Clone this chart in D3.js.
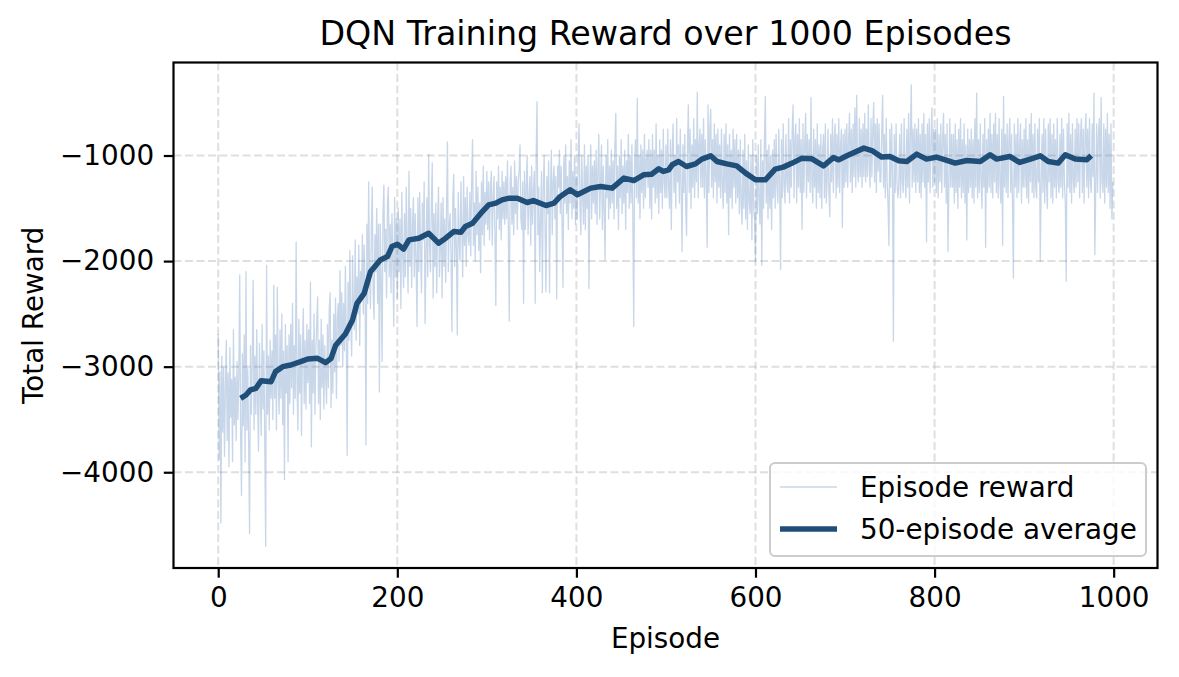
<!DOCTYPE html>
<html>
<head>
<meta charset="utf-8">
<script src="https://cdn.jsdelivr.net/npm/d3@7"></script>
<style>
  html, body { margin: 0; padding: 0; background: #fff; }
  svg { display: block; font-family: "DejaVu Sans", sans-serif; }
</style>
</head>
<body>
<svg id="chart" width="1179" height="677"></svg>
<script>
// total reward per episode (20 episodes per row)
const episodeRewards = [
  -2690, -3880, -3050, -4480, -2900, -3620, -3010, -3850, -3200, -2750, -3700, -3060, -3950, -2820, -3480, -3120, -3900, -2650, -3550, -3100,
  -3700, -2950, -3500, -3080, -2130, -3650, -4220, -2880, -3560, -2700, -3900, -2100, -3600, -3020, -3750, -4580, -2800, -3450, -2950, -2180,
  -3600, -2900, -3450, -2650, -3350, -3800, -2780, -3250, -3650, -2600, -3400, -2850, -3750, -4700, -2040, -3450, -2900, -3600, -2750, -3300,
  -2850, -3500, -2230, -3300, -2700, -3600, -2250, -3150, -3450, -2650, -3300, -2500, -3550, -2850, -4070, -2600, -3250, -2800, -3900, -2700,
  -3350, -2600, -3200, -2400, -3450, -2800, -3300, -1820, -3150, -3600, -2550, -3250, -2700, -3650, -2850, -2450, -3350, -2750, -3400, -2600,
  -3150, -2650, -3350, -2200, -3760, -2750, -3250, -2500, -3450, -2850, -2600, -2340, -3350, -2750, -3500, -2550, -3200, -2700, -3400, -2800,
  -3100, -3350, -2600, -3200, -2450, -2300, -3390, -2750, -3250, -2500, -3050, -2350, -3300, -2550, -2400, -2950, -2090, -2800, -2300, -3000,
  -2400, -2850, -2050, -2700, -3840, -2200, -2750, -1900, -2550, -2900, -1950, -2450, -2650, -1800, -2750, -2150, -2500, -1850, -2800, -2100,
  -2350, -1750, -2500, -1850, -2250, -3740, -1650, -2400, -1250, -2150, -2450, -1700, -1300, -2300, -2550, -1750, -2100, -1500, -2400, -1650,
  -3240, -1650, -2200, -2950, -1550, -1280, -2100, -1700, -2350, -1450, -1300, -2150, -1650, -2300, -1550, -2000, -2620, -1400, -2150, -1600,
  -2350, -1500, -2100, -1600, -2450, -1350, -1950, -2250, -1550, -2150, -1300, -1850, -2300, -1150, -2050, -1500, -2250, -1650, -1400, -2150,
  -1550, -2000, -2620, -1400, -2100, -1350, -1900, -2300, -1450, -1800, -1250, -2590, -1950, -1400, -2150, -990, -1850, -2100, -1500, -1070,
  -2350, -1550, -2050, -1450, -2300, -1650, -1300, -2150, -1900, -1450, -2350, -1400, -2050, -1600, -2200, -1500, -870, -2100, -1650, -1550,
  -1950, -2670, -1400, -1180, -2050, -1500, -1900, -2700, -1350, -1800, -2000, -1250, -1700, -2150, -1200, -1850, -1400, -2050, -1300, -1750,
  -1850, -1350, -1950, -1250, -850, -1850, -1450, -2000, -1150, -1750, -1300, -1900, -1450, -2110, -1250, -1750, -1100, -1850, -1350, -1650,
  -1150, -1700, -1250, -1800, -1300, -1150, -1850, -1400, -1200, -1750, -2420, -1250, -1600, -1100, -1700, -1300, -1800, -1150, -1600, -1250,
  -1650, -1200, -1600, -1050, -1700, -2570, -1250, -1100, -1650, -1300, -1750, -1050, -1550, -1200, -1700, -1250, -1150, -900, -1600, -1700,
  -1250, -2400, -1150, -1700, -1300, -1000, -1750, -1400, -1200, -1850, -1100, -1650, -1350, -1150, -2400, -1050, -490, -1750, -1300, -2100,
  -1600, -1150, -2300, -1300, -1000, -1700, -2290, -1200, -1550, -1050, -2300, -1350, -950, -1750, -1250, -1100, -1600, -1200, -2360, -1100,
  -1300, -950, -1550, -1100, -1650, -2250, -1000, -1450, -900, -1550, -1200, -1700, -1050, -1450, -850, -1600, -1150, -1500, -1000, -1650,
  -1200, -1600, -1050, -700, -1500, -1750, -1000, -1400, -1650, -900, -1700, -1100, -1500, -1000, -2260, -1300, -900, -1600, -1100, -1450,
  -1050, -1550, -950, -1650, -1150, -800, -1600, -1250, -900, -1700, -1100, -1500, -1990, -1000, -1400, -850, -1600, -1100, -1500, -950,
  -1450, -1050, -1600, -900, -600, -1500, -1100, -1700, -1000, -1400, -850, -1550, -1100, -1450, -950, -1700, -1050, -1350, -800, -1500,
  -1000, -1450, -900, -1550, -2620, -1050, -850, -1400, -460, -1450, -1000, -1600, -900, -1350, -950, -1500, -800, -1400, -1050, -950,
  -1300, -850, -1500, -950, -1600, -800, -1300, -950, -1450, -700, -1400, -1000, -1550, -850, -1350, -950, -1500, -750, -1250, -1400,
  -900, -1400, -750, -1300, -1500, -850, -1700, -950, -700, -1350, -1000, -1500, -650, -1250, -900, -1450, -750, -1300, -1910, -900,
  -1350, -800, -1450, -1760, -950, -520, -1350, -750, -1500, -900, -1300, -650, -1400, -850, -1250, -400, -1400, -900, -750, -1300,
  -800, -1300, -650, -1400, -850, -1200, -1870, -520, -1350, -750, -560, -1300, -850, -1400, -700, -1250, -800, -1450, -750, -1300,
  -900, -1400, -750, -1300, -1500, -800, -1350, -700, -1450, -900, -1750, -800, -1400, -950, -1500, -750, -1300, -850, -1450, -800,
  -1400, -950, -1550, -850, -1450, -1650, -950, -1500, -800, -1600, -1050, -1700, -900, -1450, -1550, -1000, -1800, -850, -1500, -1600,
  -2000, -1000, -1550, -900, -1450, -1650, -850, -2040, -1050, -1500, -850, -440, -1450, -950, -1600, -900, -1500, -1000, -1700, -950,
  -1400, -850, -1500, -800, -1300, -1450, -750, -1250, -2080, -850, -1400, -700, -1300, -1450, -800, -1250, -1350, -650, -1450, -850,
  -1300, -750, -520, -1400, -850, -700, -1450, -800, -1300, -650, -1350, -850, -1700, -700, -1350, -900, -600, -1400, -800, -1250,
  -850, -1350, -450, -1250, -1450, -750, -1300, -850, -1500, -700, -1350, -900, -1400, -800, -1500, -950, -800, -1400, -700, -1450,
  -1250, -750, -1350, -1580, -800, -1250, -650, -1350, -850, -700, -1400, -800, -1300, -650, -1350, -900, -750, -1680, -800, -1300,
  -750, -1250, -700, -1300, -850, -600, -1250, -750, -1350, -700, -1200, -550, -1300, -430, -1150, -1250, -650, -1200, -750, -1300,
  -700, -1200, -600, -1250, -750, -1200, -520, -1100, -1300, -650, -1200, -750, -500, -1250, -700, -1350, -650, -1150, -700, -1250,
  -1250, -750, -430, -1300, -800, -1400, -650, -1250, -1450, -1850, -750, -1300, -700, -1200, -2760, -800, -1350, -700, -1250, -1400,
  -1300, -800, -1400, -700, -1250, -1350, -650, -1200, -1400, -750, -1300, -600, -1450, -800, -330, -1300, -750, -1250, -700, -1350,
  -750, -1250, -650, -1350, -800, -1400, -700, -1250, -600, -1300, -800, -1820, -700, -1250, -650, -1350, -850, -550, -1300, -750,
  -1250, -750, -1350, -650, -1400, -800, -1250, -700, -1350, -850, -600, -1300, -800, -1450, -700, -1910, -1250, -650, -1300, -800,
  -1300, -800, -1450, -700, -1350, -850, -1500, -750, -1300, -650, -1400, -850, -1350, -700, -1450, -900, -1800, -750, -1350, -850,
  -1300, -750, -1400, -850, -1450, -650, -1300, -410, -1400, -850, -1350, -700, -1250, -1500, -800, -1300, -650, -1870, -850, -1350,
  -750, -1300, -600, -1350, -800, -1400, -700, -1250, -600, -1350, -800, -1400, -650, -1250, -1450, -750, -1850, -440, -1300, -800,
  -1350, -700, -1400, -850, -650, -1350, -800, -1450, -2160, -700, -1300, -800, -1400, -650, -1350, -900, -700, -1450, -850, -1300,
  -750, -1300, -650, -1400, -850, -1450, -700, -1250, -600, -1350, -800, -1400, -700, -1300, -1400, -750, -1250, -650, -2000, -1300,
  -800, -1350, -650, -1450, -750, -1300, -1500, -700, -1250, -650, -1400, -800, -1450, -700, -1300, -850, -1400, -650, -1250, -1350,
  -800, -1300, -650, -1400, -750, -1250, -1450, -2190, -700, -1300, -600, -1350, -800, -1450, -700, -1250, -1350, -750, -1300, -650,
  -1250, -700, -1400, -800, -650, -1350, -750, -1450, -800, -600, -1300, -750, -1400, -650, -1250, -1350, -700, -1200, -410, -1940,
  -1300, -700, -1350, -800, -650, -1400, -450, -1250, -1350, -700, -1450, -750, -1300, -600, -1350, -800, -1500, -700, -1600, -1250
];

// 50-episode moving average
const avgEpisodes = [
  25, 31, 36, 42, 48, 59, 64, 72, 81, 92, 100, 111, 120, 126, 131, 136, 142, 150, 155, 163,
  170, 181, 189, 194, 200, 207, 213, 224, 235, 246, 254, 263, 271, 276, 284, 295, 302, 310, 317, 325,
  334, 345, 352, 366, 375, 382, 393, 401, 416, 427, 440, 453, 464, 475, 484, 492, 497, 503, 507, 514,
  523, 533, 540, 550, 557, 568, 579, 589, 600, 611, 622, 631, 641, 652, 663, 676, 687, 693, 702, 721,
  730, 741, 750, 760, 769, 780, 791, 802, 812, 823, 836, 851, 862, 869, 884, 895, 907, 918, 927, 938,
  946, 957, 970, 975
];
const avgRewards = [
  -3300, -3268, -3220, -3205, -3133, -3142, -3047, -3000, -2984, -2952, -2927, -2921, -2962, -2921, -2800, -2750, -2690, -2557, -2400, -2305,
  -2100, -1989, -1957, -1862, -1840, -1887, -1799, -1783, -1736, -1830, -1783, -1720, -1726, -1673, -1641, -1531, -1467, -1451, -1420, -1404,
  -1404, -1445, -1427, -1474, -1451, -1388, -1325, -1372, -1309, -1294, -1309, -1214, -1237, -1183, -1177, -1126, -1151, -1136, -1088, -1057,
  -1104, -1079, -1034, -1003, -1057, -1079, -1098, -1167, -1230, -1230, -1129, -1110, -1072, -1025, -1031, -1098, -1020, -1041, -1003, -930,
  -953, -1015, -1009, -1050, -1057, -987, -1034, -1015, -1041, -1072, -1047, -1057, -993, -1034, -1009, -1066, -1034, -1003, -1057, -1072,
  -993, -1034, -1041, -1000
];

const xTickValues = [0, 200, 400, 600, 800, 1000];
const yTickValues = [-4000, -3000, -2000, -1000];
const seriesLabels = ['Episode reward', '50-episode average'];

const plot = { left: 173.5, right: 1157.5, top: 62.5, bottom: 568 };
const fontPx = 27.8;
const episodeColor = '#4a78b5';
const avgColor = '#1f4e79';

const svg = d3.select('#chart');

const x = d3.scaleLinear().domain([-49.95, 1048.95]).range([plot.left, plot.right]);
const y = d3.scaleLinear().domain([-4907, -119]).range([plot.bottom, plot.top]);

svg.append('defs').append('clipPath').attr('id', 'plot-clip')
  .append('rect')
  .attr('x', plot.left).attr('y', plot.top)
  .attr('width', plot.right - plot.left).attr('height', plot.bottom - plot.top);

// dashed grid
const grid = svg.append('g').attr('class', 'grid');
grid.selectAll('.gx').data(xTickValues).join('line')
  .attr('x1', d => x(d)).attr('x2', d => x(d))
  .attr('y1', plot.top).attr('y2', plot.bottom);
grid.selectAll('.gy').data(yTickValues).join('line')
  .attr('x1', plot.left).attr('x2', plot.right)
  .attr('y1', d => y(d)).attr('y2', d => y(d));
grid.selectAll('line')
  .attr('stroke', '#b0b0b0').attr('stroke-opacity', 0.4)
  .attr('stroke-width', 2).attr('stroke-dasharray', '8,3.5');

const lines = svg.append('g').attr('clip-path', 'url(#plot-clip)');

const rawLine = d3.line().x((d, i) => x(i)).y(d => y(d));
lines.append('path')
  .datum(episodeRewards)
  .attr('d', rawLine)
  .attr('fill', 'none')
  .attr('stroke', episodeColor)
  .attr('stroke-opacity', 0.3)
  .attr('stroke-width', 1.3)
  .attr('stroke-linejoin', 'round');

const avgLine = d3.line().x((d, i) => x(avgEpisodes[i])).y(d => y(d));
lines.append('path')
  .datum(avgRewards)
  .attr('d', avgLine)
  .attr('fill', 'none')
  .attr('stroke', avgColor)
  .attr('stroke-width', 5.5)
  .attr('stroke-linejoin', 'round')
  .attr('stroke-linecap', 'butt');

// axes
const xAxis = d3.axisBottom(x).tickValues(xTickValues)
  .tickSize(9.7).tickPadding(9.7).tickFormat(d3.format('d'));
const yAxis = d3.axisLeft(y).tickValues(yTickValues)
  .tickSize(9.7).tickPadding(9.7).tickFormat(d3.format('d'));

const gx = svg.append('g').attr('transform', `translate(0,${plot.bottom})`).call(xAxis);
const gy = svg.append('g').attr('transform', `translate(${plot.left},0)`).call(yAxis);
[gx, gy].forEach(g => {
  g.select('.domain').remove();
  g.selectAll('.tick line').attr('stroke', '#000').attr('stroke-width', 2.2);
  g.selectAll('.tick text')
    .attr('fill', '#000')
    .style('font-family', '"DejaVu Sans", sans-serif')
    .style('font-size', fontPx + 'px');
});

// spines
svg.append('rect')
  .attr('x', plot.left).attr('y', plot.top)
  .attr('width', plot.right - plot.left).attr('height', plot.bottom - plot.top)
  .attr('fill', 'none').attr('stroke', '#000').attr('stroke-width', 2.2);

// title and axis labels
const midX = (plot.left + plot.right) / 2;
svg.append('text')
  .attr('x', midX).attr('y', 45)
  .attr('text-anchor', 'middle')
  .style('font-size', '33.3px')
  .text('DQN Training Reward over 1000 Episodes');

svg.append('text')
  .attr('x', midX).attr('y', 648)
  .attr('text-anchor', 'middle')
  .style('font-size', fontPx + 'px')
  .text('Episode');

svg.append('text')
  .attr('transform', `translate(43,${(plot.top + plot.bottom) / 2}) rotate(-90)`)
  .attr('text-anchor', 'middle')
  .style('font-size', fontPx + 'px')
  .text('Total Reward');

// legend, lower right
const legend = svg.append('g').attr('transform', 'translate(770,463)');
legend.append('rect')
  .attr('width', 376).attr('height', 93).attr('rx', 5)
  .attr('fill', '#fff').attr('fill-opacity', 0.8)
  .attr('stroke', '#cccccc').attr('stroke-width', 2);

const legendItems = [
  { label: seriesLabels[0], color: episodeColor, opacity: 0.3, width: 1.3 },
  { label: seriesLabels[1], color: avgColor, opacity: 1, width: 5.5 }
];
const rows = legend.selectAll('.item').data(legendItems).join('g')
  .attr('class', 'item')
  .attr('transform', (d, i) => `translate(0,${24 + i * 42})`);
rows.append('line')
  .attr('x1', 10).attr('x2', 67)
  .attr('stroke', d => d.color)
  .attr('stroke-opacity', d => d.opacity)
  .attr('stroke-width', d => d.width);
rows.append('text')
  .attr('x', 90).attr('y', 10)
  .style('font-size', fontPx + 'px')
  .text(d => d.label);
</script>
</body>
</html>
